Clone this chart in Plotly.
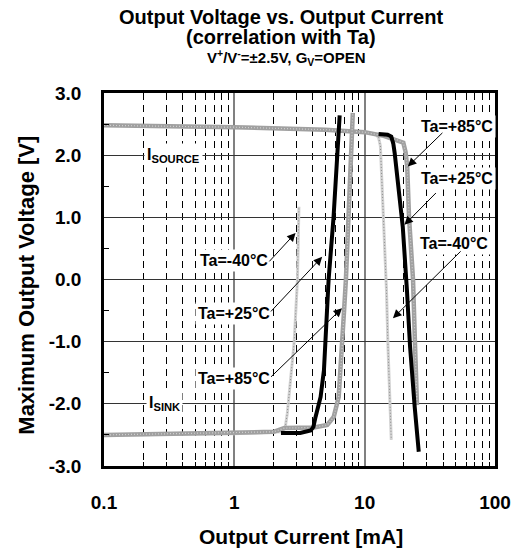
import plotly.graph_objects as go

# ---------------- data ----------------
# Source side (positive output voltage)
src_m40_x = [0.1, 1.0, 5.0, 10.0, 12.3, 12.8, 13.2, 13.9, 14.7, 15.1, 15.6, 16.0]
src_m40_v = [2.48, 2.45, 2.41, 2.37, 2.33, 2.28, 2.15, 1.12, -0.17, -1.08, -2.05, -2.58]

src_p25_x = [12.8, 15.0, 16.0, 16.6, 17.0, 18.5, 19.6, 21.1, 22.3, 24.2, 26.0]
src_p25_v = [2.34, 2.33, 2.30, 2.18, 2.03, 1.33, 0.85, -0.17, -1.08, -2.05, -2.77]

src_p85_x = [0.1, 1.0, 5.0, 10.0, 14.0, 18.0, 19.8, 20.6, 21.2, 21.9, 23.5, 24.3, 25.2]
src_p85_v = [2.48, 2.45, 2.41, 2.37, 2.31, 2.24, 2.20, 2.05, 1.82, 1.00, 0.00, -1.00, -2.02]

# Sink side (negative output voltage)
snk_m40_x = [0.1, 1.0, 2.27, 2.45, 2.55, 2.65, 2.75, 2.88, 3.05, 3.13]
snk_m40_v = [-2.50, -2.48, -2.45, -2.40, -2.15, -1.75, -1.40, -1.00, 0.00, 1.17]

snk_p25_x = [2.28, 3.2, 3.85, 4.04, 4.20, 4.59, 4.87, 5.05, 5.29, 5.77, 6.12, 6.43]
snk_p25_v = [-2.47, -2.47, -2.43, -2.37, -2.21, -1.89, -1.46, -0.65, 0.00, 1.00, 2.00, 2.64]

snk_p85_x = [0.1, 1.0, 2.0, 2.42, 4.08, 5.16, 5.79, 6.32, 6.69, 6.95, 7.18, 7.66, 8.11]
snk_p85_v = [-2.50, -2.47, -2.45, -2.39, -2.38, -2.34, -2.21, -1.89, -1.19, -0.50, 0.00, 1.30, 2.68]

x_tickvals = [0.1, 1, 10, 100]
x_ticktext = ["0.1", "1", "10", "100"]
y_tickvals = [-3, -2, -1, 0, 1, 2, 3]
y_ticktext = ["-3.0", "-2.0", "-1.0", "0.0", "1.0", "2.0", "3.0"]
x_minor = [m * d for d in (0.1, 1, 10) for m in range(2, 10)]
y_minor = [-2.5, -1.5, -0.5, 0.5, 1.5, 2.5]

FONT = "Liberation Sans, Arial, sans-serif"

C_M40 = "#d2d2d2"
C_M40_DOT = "#8c8c8c"
C_P85 = "#a0a0a0"
C_P85_DOT = "#cfcfcf"
C_P25 = "#000000"

fig = go.Figure()

def add(x, y, color, width, dash="solid"):
    fig.add_trace(go.Scatter(x=x, y=y, mode="lines",
                             line=dict(color=color, width=width, dash=dash),
                             showlegend=False, hoverinfo="skip"))

# Ta=-40 (light dotted texture)
for xs, vs in ((src_m40_x, src_m40_v), (snk_m40_x, snk_m40_v)):
    add(xs, vs, C_M40, 3)
    add(xs, vs, C_M40_DOT, 1, "1px,2px")
# Ta=+85 (mid-gray textured)
for xs, vs in ((src_p85_x, src_p85_v), (snk_p85_x, snk_p85_v)):
    add(xs, vs, C_P85, 4.5)
    add(xs, vs, C_P85_DOT, 1.2, "1px,2px")
# Ta=+25 (black)
add(src_p25_x, src_p25_v, C_P25, 4)
add(snk_p25_x, snk_p25_v, C_P25, 4)

annotations = []

# Titles
annotations += [
    dict(text="<b>Output Voltage vs. Output Current</b>", x=0.452, y=1.204, xref="paper", yref="paper",
         showarrow=False, font=dict(size=20, family=FONT, color="black"), xanchor="center", yanchor="middle"),
    dict(text="<b>(correlation with Ta)</b>", x=0.452, y=1.150, xref="paper", yref="paper",
         showarrow=False, font=dict(size=20, family=FONT, color="black"), xanchor="center", yanchor="middle"),
    dict(text="<b>V<sup>+</sup>/V<sup>-</sup>=±2.5V, G<sub>V</sub>=OPEN</b>", x=0.468, y=1.095,
         xref="paper", yref="paper", showarrow=False, font=dict(size=15, family=FONT, color="black"),
         xanchor="center", yanchor="middle"),
    dict(text="<b>Maximum Output Voltage [V]</b>", x=-0.2005, y=0.485, xref="paper", yref="paper",
         textangle=-90, showarrow=False, font=dict(size=22, family=FONT, color="black"),
         xanchor="center", yanchor="middle"),
    dict(text="<b>Output Current [mA]</b>", x=0.504, y=-0.19, xref="paper", yref="paper",
         showarrow=False, font=dict(size=21, family=FONT, color="black"), xanchor="center", yanchor="middle"),
]

# Labels with white background (x in log10 units)
labels = [
    ("<b>I<sub>SOURCE</sub></b>", -0.47, 2.0),
    ("<b>I<sub>SINK</sub></b>", -0.538, -2.0),
    ("<b>Ta=-40°C</b>", 0.0, 0.30),
    ("<b>Ta=+25°C</b>", 0.0, -0.554),
    ("<b>Ta=+85°C</b>", 0.0, -1.60),
    ("<b>Ta=+85°C</b>", 1.705, 2.457),
    ("<b>Ta=+25°C</b>", 1.705, 1.62),
    ("<b>Ta=-40°C</b>", 1.689, 0.573),
]
for t, lx, ly in labels:
    annotations.append(dict(text=t, x=lx, y=ly, xref="x", yref="y", showarrow=False,
                            bgcolor="white", borderpad=2,
                            font=dict(size=16, family=FONT, color="black"),
                            xanchor="center", yanchor="middle"))

# Arrows: (head_x, head_y, tail_x, tail_y) with x in log10 units
arrows = [
    (0.470, 0.750, 0.258, 0.267),
    (0.674, 0.364, 0.270, -0.538),
    (0.826, -0.462, 0.270, -1.589),
    (1.331, 1.818, 1.608, 2.382),
    (1.305, 0.879, 1.558, 1.415),
    (1.217, -0.623, 1.748, 0.477),
]
for hx, hy, tx, ty in arrows:
    annotations.append(dict(text="", x=hx, y=hy, ax=tx, ay=ty, xref="x", yref="y",
                            axref="x", ayref="y", showarrow=True, arrowhead=2,
                            arrowsize=1.7, arrowwidth=1, arrowcolor="black"))

fig.update_layout(
    width=515, height=543,
    margin=dict(l=96, r=25, t=85, b=85),
    paper_bgcolor="white", plot_bgcolor="white",
    font=dict(family=FONT, color="black"),
    annotations=annotations,
    showlegend=False,
)

fig.update_xaxes(
    type="log", range=[-1, 2],
    tickmode="array", tickvals=x_tickvals, ticktext=x_ticktext,
    tickfont=dict(size=19, family=FONT, color="black", weight="bold"),
    ticks="", ticklabelstandoff=17,
    showgrid=True, gridcolor="#808080", gridwidth=2,
    minor=dict(tickmode="array", tickvals=x_minor, showgrid=True, gridcolor="black",
               gridwidth=1, griddash="7px,5px", ticks="inside", ticklen=4,
               tickcolor="black"),
    showline=True, mirror=True, linecolor="black", linewidth=2.5,
    zeroline=False,
)
fig.update_yaxes(
    range=[-3, 3],
    tickmode="array", tickvals=y_tickvals, ticktext=y_ticktext,
    tickfont=dict(size=19, family=FONT, color="black", weight="bold"),
    ticks="", ticklabelstandoff=16,
    showgrid=True, gridcolor="#333333", gridwidth=1,
    minor=dict(tickmode="array", tickvals=y_minor, showgrid=False, ticks="inside",
               ticklen=5, tickcolor="black"),
    showline=True, mirror=True, linecolor="black", linewidth=2.5,
    zeroline=False,
)

fig.write_html("out.html")
